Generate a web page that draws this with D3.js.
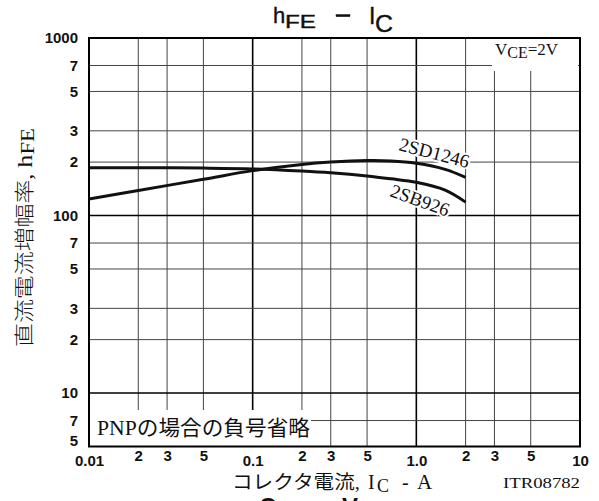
<!DOCTYPE html>
<html><head><meta charset="utf-8">
<script src="https://cdn.jsdelivr.net/npm/d3@7"></script>
<style>html,body{margin:0;padding:0;background:#fff;} svg{display:block;}</style>
</head><body>
<svg id="chart" width="599" height="501"></svg>
<script>
// ---- data ----
const icD = [0.01, 0.02, 0.05, 0.1, 0.2, 0.3, 0.5, 0.7, 1.0, 1.5, 2.0];
const hfeD = [124, 138.5, 160, 179, 194, 200, 204, 203, 197, 182, 164];
const icB = [0.01, 0.02, 0.05, 0.1, 0.2, 0.3, 0.5, 0.7, 1.0, 1.5, 2.0];
const hfeB = [186, 186, 185, 183, 178, 174, 167, 161, 154, 139, 119];
const seriesNames = ["2SD1246", "2SB926"];
const xTickValues = [0.01, 0.02, 0.03, 0.05, 0.1, 0.2, 0.3, 0.5, 1, 2, 3, 5, 10];
const xTickLabels = ["0.01", "2", "3", "5", "0.1", "2", "3", "5", "1.0", "2", "3", "5", "10"];
const yTickValues = [1000, 700, 500, 300, 200, 100, 70, 50, 30, 20, 10, 7, 5];
const yTickLabels = ["1000", "7", "5", "3", "2", "100", "7", "5", "3", "2", "10", "7", "5"];
const xGrid = [0.02, 0.03, 0.05, 0.1, 0.2, 0.3, 0.5, 1, 2, 3, 5];
const yGrid = [700, 500, 300, 200, 100, 70, 50, 30, 20, 10, 7];
const majorX = [0.1, 1];
const majorY = [100, 10];

// ---- layout ----
const L = 89, R = 580, T = 38, B = 446.5;
const svg = d3.select("#chart");
const x = d3.scaleLog().domain([0.01, 10]).range([L, R]);
const y = d3.scaleLog().domain([5, 1000]).range([B, T]);
const SANS = "'Liberation Sans', Arial, Helvetica, sans-serif";
const SERIF = "'Liberation Serif', 'Times New Roman', serif";
const CJK = "'Liberation Serif', 'Noto Sans CJK JP', serif";

// gridlines
const g = svg.append("g");
g.selectAll("line.vx").data(xGrid).join("line")
  .attr("x1", d => x(d)).attr("x2", d => x(d)).attr("y1", T).attr("y2", B)
  .attr("stroke", d => majorX.includes(d) ? "#000" : "#444")
  .attr("stroke-width", d => majorX.includes(d) ? 1.6 : 1);
g.selectAll("line.hy").data(yGrid).join("line")
  .attr("y1", d => y(d)).attr("y2", d => y(d)).attr("x1", L).attr("x2", R)
  .attr("stroke", d => majorY.includes(d) ? "#000" : "#444")
  .attr("stroke-width", d => majorY.includes(d) ? 1.6 : 1);

// white boxes for annotations
svg.append("rect").attr("x", 492).attr("y", T).attr("width", 86).attr("height", 33).attr("fill", "#fff");
svg.append("rect").attr("x", L + 1).attr("y", 410).attr("width", 221).attr("height", B - 410).attr("fill", "#fff");

// curves
const line = d3.line().x(d => x(d[0])).y(d => y(d[1])).curve(d3.curveCatmullRom.alpha(0.5));
svg.append("path").datum(d3.zip(icD, hfeD)).attr("d", line)
  .attr("fill", "none").attr("stroke", "#111").attr("stroke-width", 3);
svg.append("path").datum(d3.zip(icB, hfeB)).attr("d", line)
  .attr("fill", "none").attr("stroke", "#111").attr("stroke-width", 3);

// frame
svg.append("rect").attr("x", L).attr("y", T).attr("width", R - L).attr("height", B - T)
  .attr("fill", "none").attr("stroke", "#000").attr("stroke-width", 2);

// curve labels
function curveLabel(txt, px, py, ang) {
  svg.append("text").attr("transform", `translate(${px},${py}) rotate(${ang})`)
    .attr("font-family", SERIF).attr("font-size", 19).attr("fill", "#111")
    .attr("stroke", "#fff").attr("stroke-width", 4).attr("paint-order", "stroke")
    .text(txt);
}
curveLabel(seriesNames[0], 398, 150, 14.6);
curveLabel(seriesNames[1], 389, 196, 19.7);

// axes tick labels
const yAxis = d3.axisLeft(y).tickValues(yTickValues).tickSize(0).tickPadding(11)
  .tickFormat((d, i) => yTickLabels[i]);
const ya = svg.append("g").attr("transform", `translate(${L},0)`).call(yAxis);
ya.select(".domain").remove();
ya.selectAll("text").attr("font-family", SANS).attr("font-size", 15).attr("font-weight", "bold")
  .attr("fill", "#111").attr("dy", (d, i) => i === yTickValues.length - 1 ? "-0.05em" : "0.32em");

const xAxis = d3.axisBottom(x).tickValues(xTickValues).tickSize(0)
  .tickFormat((d, i) => xTickLabels[i]);
const xa = svg.append("g").attr("transform", `translate(0,${B})`).call(xAxis);
xa.select(".domain").remove();
xa.selectAll("text").attr("font-family", SANS).attr("font-size", 15).attr("font-weight", "bold")
  .attr("fill", "#111")
  .attr("y", (d, i) => (xTickLabels[i].length > 1) ? 9 : 4);

// title
const tt = svg.append("g").attr("font-family", SANS).attr("fill", "#111")
  .attr("stroke", "#111").attr("stroke-width", 0.4);
tt.append("text").attr("x", 273).attr("y", 23).attr("font-size", 22).text("h");
tt.append("text").attr("x", 285).attr("y", 28).attr("font-size", 18)
  .attr("textLength", 31).attr("lengthAdjust", "spacingAndGlyphs").text("FE");
tt.append("rect").attr("x", 336).attr("y", 14.5).attr("width", 14).attr("height", 2.2);
tt.append("text").attr("x", 369).attr("y", 24).attr("font-size", 23).text("I");
tt.append("text").attr("x", 375).attr("y", 32).attr("font-size", 24)
  .attr("textLength", 18).attr("lengthAdjust", "spacingAndGlyphs").text("C");

// VCE annotation
const v = svg.append("text").attr("x", 495).attr("y", 55).attr("font-family", SERIF)
  .attr("font-size", 17).attr("fill", "#111");
v.append("tspan").text("V");
v.append("tspan").attr("dy", 3).attr("font-size", 16).text("CE");
v.append("tspan").attr("dy", -3).text("=2V");

// PNP note
svg.append("text").attr("x", 97).attr("y", 435).attr("font-family", CJK)
  .attr("font-size", 21).attr("fill", "#111")
  .attr("textLength", 213).attr("lengthAdjust", "spacingAndGlyphs")
  .text("PNPの場合の負号省略");

// y axis label
const yl = svg.append("text").attr("transform", "translate(32,347) rotate(-90)")
  .attr("font-family", CJK).attr("font-size", 20).attr("fill", "#111")
  .attr("textLength", 219).attr("lengthAdjust", "spacingAndGlyphs");
yl.append("tspan").attr("font-weight", 300).text("直流電流増幅率, ");
yl.append("tspan").attr("font-size", 22).text("h");
yl.append("tspan").attr("font-size", 19).attr("dy", 2).text("FE");

// x axis label
const xl = svg.append("g").attr("font-family", CJK).attr("fill", "#111");
xl.append("text").attr("x", 232).attr("y", 489).attr("font-size", 19)
  .attr("textLength", 128).attr("lengthAdjust", "spacingAndGlyphs").text("コレクタ電流,");
xl.append("text").attr("x", 368).attr("y", 489).attr("font-size", 20).text("I");
xl.append("text").attr("x", 377).attr("y", 492).attr("font-size", 18).text("C");
xl.append("text").attr("x", 402).attr("y", 489).attr("font-size", 20).text("-");
xl.append("text").attr("x", 417).attr("y", 489).attr("font-size", 21).text("A");
svg.append("text").attr("x", 503).attr("y", 488).attr("font-family", SERIF).attr("font-size", 15)
  .attr("fill", "#111").attr("textLength", 77).attr("lengthAdjust", "spacingAndGlyphs").text("ITR08782");

// partially visible heading of the next chart (cut off at the bottom edge, as in the reference)
const nx = svg.append("g").attr("font-family", SANS).attr("font-size", 24).attr("font-weight", "bold").attr("fill", "#111");
nx.append("text").attr("x", 259).attr("y", 515).text("C");
nx.append("text").attr("x", 342).attr("y", 515).text("V");
</script>
</body></html>
